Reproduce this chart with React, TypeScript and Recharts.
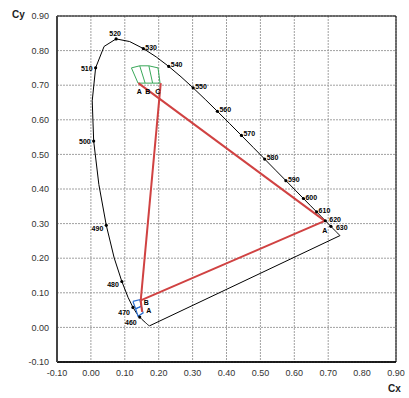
import React from 'react';
import {
  ScatterChart,
  Scatter,
  XAxis,
  YAxis,
  CartesianGrid,
  ReferenceArea
} from 'recharts';

// CIE 1931 spectral locus
const wavelengths = [
  380, 385, 390, 395, 400, 405, 410, 415, 420, 425, 430, 435, 440, 445, 450, 455,
  460, 465, 470, 475, 480, 485, 490, 495, 500, 505, 510, 515, 520, 525, 530, 535,
  540, 545, 550, 555, 560, 565, 570, 575, 580, 585, 590, 595, 600, 605, 610, 615,
  620, 625, 630, 635, 640, 645, 650, 660, 670, 680, 690, 700
];
const locusX = [
  0.1741, 0.1740, 0.1738, 0.1736, 0.1733, 0.1730, 0.1726, 0.1721, 0.1714, 0.1703, 0.1689, 0.1669, 0.1644, 0.1611, 0.1566, 0.1510,
  0.1440, 0.1355, 0.1241, 0.1096, 0.0913, 0.0687, 0.0454, 0.0235, 0.0082, 0.0039, 0.0139, 0.0389, 0.0743, 0.1142, 0.1547, 0.1929,
  0.2296, 0.2658, 0.3016, 0.3373, 0.3731, 0.4087, 0.4441, 0.4788, 0.5125, 0.5448, 0.5752, 0.6029, 0.6270, 0.6482, 0.6658, 0.6801,
  0.6915, 0.7006, 0.7079, 0.7140, 0.7190, 0.7230, 0.7260, 0.7300, 0.7320, 0.7334, 0.7344, 0.7347
];
const locusY = [
  0.0050, 0.0050, 0.0049, 0.0049, 0.0048, 0.0048, 0.0048, 0.0048, 0.0051, 0.0058, 0.0069, 0.0086, 0.0109, 0.0138, 0.0177, 0.0227,
  0.0297, 0.0399, 0.0578, 0.0868, 0.1327, 0.2007, 0.2950, 0.4127, 0.5384, 0.6548, 0.7502, 0.8120, 0.8338, 0.8262, 0.8059, 0.7816,
  0.7543, 0.7243, 0.6923, 0.6589, 0.6245, 0.5896, 0.5547, 0.5202, 0.4866, 0.4544, 0.4242, 0.3965, 0.3725, 0.3514, 0.3340, 0.3197,
  0.3083, 0.2993, 0.2920, 0.2859, 0.2809, 0.2770, 0.2740, 0.2700, 0.2680, 0.2666, 0.2656, 0.2653
];
const markedWavelengths = [460, 470, 480, 490, 500, 510, 520, 530, 540, 550, 560, 570, 580, 590, 600, 610, 620, 630];

// primaries
const redPrimary = { x: 0.690, y: 0.308 };
const greenA = { x: 0.140, y: 0.706 };
const greenC = { x: 0.206, y: 0.706 };
const blueB = { x: 0.147, y: 0.078 };
const blueA = { x: 0.151, y: 0.045 };

// tolerance grids
const greenTop = [
  { x: 0.1195, y: 0.750 }, { x: 0.144, y: 0.756 }, { x: 0.171, y: 0.756 }, { x: 0.198, y: 0.750 }
];
const greenBottom = [
  { x: 0.139, y: 0.706 }, { x: 0.160, y: 0.706 }, { x: 0.182, y: 0.706 }, { x: 0.204, y: 0.706 }
];
const blueLeft = [
  { x: 0.124, y: 0.075 }, { x: 0.132, y: 0.054 }, { x: 0.139, y: 0.032 }
];
const blueRight = [
  { x: 0.144, y: 0.080 }, { x: 0.149, y: 0.061 }, { x: 0.154, y: 0.042 }
];

const notes = [
  { x: 0.143, y: 0.682, text: 'A' },
  { x: 0.168, y: 0.682, text: 'B' },
  { x: 0.197, y: 0.682, text: 'C' },
  { x: 0.163, y: 0.074, text: 'B' },
  { x: 0.171, y: 0.049, text: 'A' },
  { x: 0.690, y: 0.282, text: 'A' }
];

const ticks = [-0.1, 0, 0.1, 0.2, 0.3, 0.4, 0.5, 0.6, 0.7, 0.8, 0.9];

const locus = wavelengths.map((wl, i) => ({ x: locusX[i], y: locusY[i], wl }));
const locusClosed = [...locus, locus[0]];
const marked = locus.filter((p) => markedWavelengths.includes(p.wl));

const gridLines = (a: { x: number; y: number }[], b: { x: number; y: number }[]) => {
  const lines = [[...a, ...[...b].reverse(), a[0]]];
  for (let i = 1; i < a.length - 1; i++) lines.push([a[i], b[i]]);
  return lines;
};
const greenLines = gridLines(greenTop, greenBottom);
const blueLines = gridLines(blueLeft, blueRight).concat(
  blueLeft.slice(1, -1).map((p, i) => [p, blueRight[i + 1]])
);

const redLines = [
  [greenA, redPrimary],
  [greenC, blueB],
  [blueB, redPrimary],
  [blueB, blueA]
];

const noShape = () => <g />;
const font = '"Liberation Sans", Arial, sans-serif';

const wlShape = (props: any) => {
  const { cx, cy, payload } = props;
  const wl = payload.wl;
  let tx = cx + 2;
  let ty = cy + 1;
  let anchor: 'start' | 'end' | 'middle' = 'start';
  if (wl <= 510) {
    anchor = 'end';
    tx = cx - 3;
    ty = wl >= 500 ? cy + 3 : wl >= 480 ? cy + 6 : cy + 8;
  } else if (wl === 520) {
    anchor = 'middle';
    tx = cx - 1;
    ty = cy - 3;
  } else if (wl === 620) {
    tx = cx + 4;
  } else if (wl === 630) {
    tx = cx + 5;
    ty = cy + 4;
  }
  return (
    <g>
      <circle cx={cx} cy={cy} r={1.6} fill="#000" />
      <text x={tx} y={ty} textAnchor={anchor} fontSize={7} fontWeight="bold" fontFamily={font} fill="#000">
        {wl}
      </text>
    </g>
  );
};

const noteShape = (props: any) => (
  <text x={props.cx} y={props.cy + 3} textAnchor="middle" fontSize={7} fontWeight="bold" fontFamily={font} fill="#000">
    {props.payload.text}
  </text>
);

const tickStyle = { fontSize: 9, fill: '#333', fontFamily: font };

const App: React.FC = () => {
  return (
    <div style={{ position: 'absolute', left: 0, top: 0, width: 409, height: 398, background: '#fff' }}>
      <ScatterChart width={409} height={398} margin={{ top: 16, right: 13, left: 0, bottom: 0 }}>
        <CartesianGrid stroke="#a0a0a0" strokeDasharray="2 1" />
        <XAxis
          type="number"
          dataKey="x"
          domain={[-0.1, 0.9]}
          ticks={ticks}
          tickFormatter={(v: number) => v.toFixed(2)}
          tick={tickStyle}
          tickLine={false}
          axisLine={{ stroke: '#000', strokeWidth: 1.5 }}
          height={36}
          allowDataOverflow
        />
        <YAxis
          type="number"
          dataKey="y"
          domain={[-0.1, 0.9]}
          ticks={ticks}
          tickFormatter={(v: number) => v.toFixed(2)}
          tick={tickStyle}
          tickLine={false}
          axisLine={{ stroke: '#444', strokeWidth: 2 }}
          width={57}
          allowDataOverflow
        />
        <ReferenceArea x1={-0.1} x2={0.9} y1={-0.1} y2={0.9} fill="none" stroke="#000" strokeWidth={1} />
        <Scatter data={locusClosed} line={{ stroke: '#000', strokeWidth: 1 }} lineType="joint" shape={noShape} isAnimationActive={false} />
        {greenLines.map((d, i) => (
          <Scatter key={'g' + i} data={d} line={{ stroke: '#3aa85a', strokeWidth: 1 }} lineType="joint" shape={noShape} isAnimationActive={false} />
        ))}
        {blueLines.map((d, i) => (
          <Scatter key={'b' + i} data={d} line={{ stroke: '#2b6fcf', strokeWidth: 1.2 }} lineType="joint" shape={noShape} isAnimationActive={false} />
        ))}
        {redLines.map((d, i) => (
          <Scatter key={'r' + i} data={d} line={{ stroke: '#d04242', strokeWidth: 2 }} lineType="joint" shape={noShape} isAnimationActive={false} />
        ))}
        <Scatter data={marked} shape={wlShape} isAnimationActive={false} />
        <Scatter data={notes} shape={noteShape} isAnimationActive={false} />
      </ScatterChart>
      <div style={{ position: 'absolute', left: 12, top: 9, fontFamily: font, fontSize: 10, fontWeight: 'bold', color: '#222' }}>Cy</div>
      <div style={{ position: 'absolute', left: 388, top: 383, fontFamily: font, fontSize: 10, fontWeight: 'bold', color: '#222' }}>Cx</div>
    </div>
  );
};

export default App;
